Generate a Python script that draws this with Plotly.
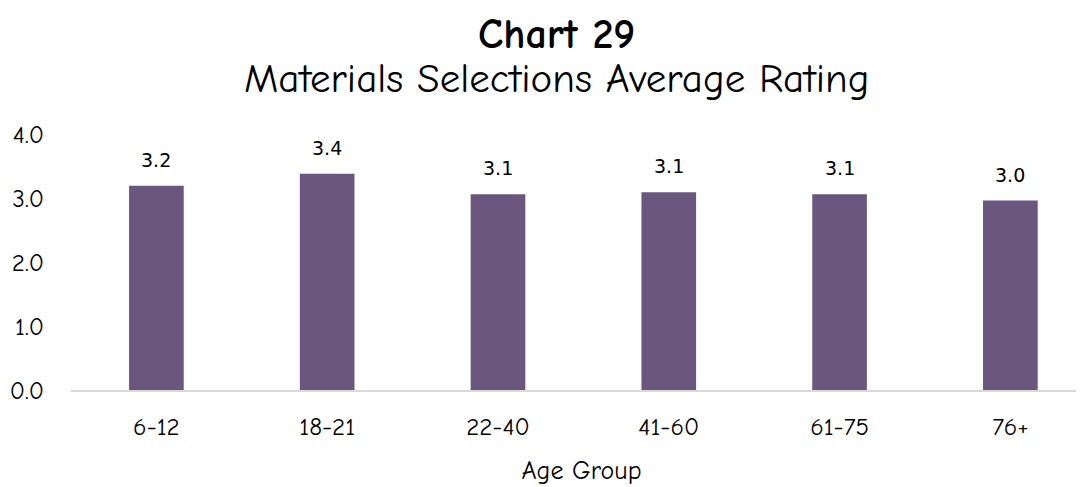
import plotly.graph_objects as go

categories = ["6-12", "18-21", "22-40", "41-60", "61-75", "76+"]
ratings = [3.19, 3.38, 3.06, 3.09, 3.06, 2.96]
y_ticks = [0, 1, 2, 3, 4]
y_tick_labels = ["0.0", "1.0", "2.0", "3.0", "4.0"]

BAR = "#6B577E"
TITLE_FONT = "Comic Sans MS, Comic Neue, Lato, sans-serif"

fig = go.Figure()
fig.add_trace(go.Bar(x=categories, y=ratings, marker=dict(color=BAR, line=dict(width=0)),
                     width=0.32, hoverinfo="skip"))

for c, v in zip(categories, ratings):
    fig.add_annotation(x=c, y=v, text=f"{v:.1f}", showarrow=False, yanchor="bottom",
                       yshift=13, font=dict(family="DejaVu Sans, Verdana, sans-serif", size=19, color="#000"))

fig.add_annotation(xref="paper", yref="paper", x=0.476, y=1, xanchor="center", yanchor="middle",
                   text="<b>Chart 29</b>", showarrow=False, yshift=100,
                   font=dict(family=TITLE_FONT, size=42, color="#000"))
fig.add_annotation(xref="paper", yref="paper", x=0.476, y=1, xanchor="center", yanchor="middle",
                   text="Materials Selections Average Rating", showarrow=False, yshift=56,
                   font=dict(family=TITLE_FONT, size=41, color="#000"))

fig.update_layout(
    width=1084, height=487,
    margin=dict(l=63, r=0, t=126, b=105),
    paper_bgcolor="white", plot_bgcolor="white",
    showlegend=False,
    xaxis=dict(range=[-0.5, 5.478], showgrid=False, showline=True, linecolor="#D9D9D9", linewidth=1.5,
               ticks="", ticklabelstandoff=13, tickfont=dict(family=TITLE_FONT, size=25, color="#000"),
               title=dict(text="Age Group", font=dict(family=TITLE_FONT, size=26, color="#000"), standoff=21),
               fixedrange=True),
    yaxis=dict(range=[0, 4], tickvals=y_ticks, ticktext=y_tick_labels, showgrid=False, zeroline=False,
               showline=False, ticks="", ticklabelstandoff=26,
               tickfont=dict(family=TITLE_FONT, size=25, color="#000"), fixedrange=True),
)

fig.write_html("out.html")
